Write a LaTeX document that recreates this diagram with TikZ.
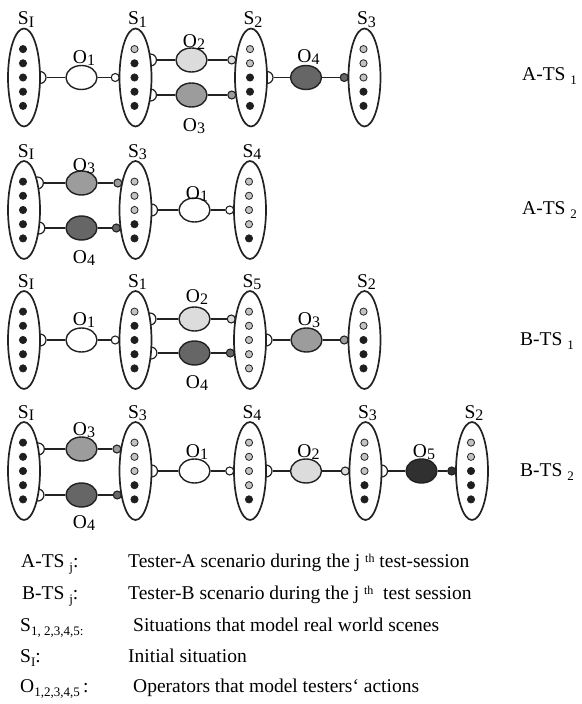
\documentclass[tikz,border=0pt]{standalone}
\usepackage{fontspec}
\setmainfont{Liberation Serif}
\usetikzlibrary{shapes.geometric,calc}
\pgfdeclarelayer{bg}
\pgfsetlayers{bg,main}
\definecolor{dotb}{HTML}{1E1E1E}
\definecolor{dotg}{HTML}{C2C2C2}
\definecolor{opw}{HTML}{FFFFFF}
\definecolor{opl}{HTML}{DCDCDC}
\definecolor{opm}{HTML}{9C9C9C}
\definecolor{opd}{HTML}{666666}
\definecolor{opk}{HTML}{303030}
\definecolor{ink}{HTML}{222222}
\newcommand\ls[1]{\raisebox{-2.5pt}{\fontsize{16}{16}\selectfont #1}}
\newcommand\ts[1]{\raisebox{-4pt}{\fontsize{13}{13}\selectfont #1}}
\newcommand\tsup[1]{\raisebox{5pt}{\fontsize{12}{12}\selectfont #1}}
\tikzset{
  sit/.style={ellipse, draw=ink, line width=1.7pt, fill=white, minimum width=32pt, minimum height=98pt, inner sep=0pt},
  opst/.style={ellipse, draw=ink, line width=1.4pt, minimum width=31pt, minimum height=24pt, inner sep=0pt},
  sockst/.style={circle, draw=ink, line width=1.2pt, fill=white, minimum size=12pt, inner sep=0pt},
  plugst/.style={circle, draw=ink, line width=1.1pt, minimum size=8pt, inner sep=0pt},
  conn/.style={draw=ink, line width=1.7pt},
  lab/.style={font=\fontsize{19.5}{22}\selectfont, inner sep=0pt, text=black},
}
% name, x, y, label, dots
\newcommand\Sit[5]{%
  \node[sit] (#1) at (#2,#3) {};
  \node[lab, anchor=base] (#1l) at (#2+2,#3-53) {#4};
  \foreach \c [count=\i] in {#5} {\path[fill=dot\c, draw=ink, line width=0.8pt] (#2-1,#3+\i*14.2-42.6) circle (3.6);}
}
% name, Sx, Sy, branch y
\newcommand\Sock[4]{%
  \pgfmathsetmacro\dxx{16*sqrt(1-((#4-(#3))/49)^2)}%
  \begin{pgfonlayer}{bg}\node[sockst] (#1) at (#2+\dxx,#4) {};\end{pgfonlayer}}
% name, Sx, Sy, branch y, colour
\newcommand\Plug[5]{%
  \pgfmathsetmacro\dxx{16*sqrt(1-((#4-(#3))/49)^2)}%
  \begin{pgfonlayer}{bg}\node[plugst, fill=#5] (#1) at (#2-\dxx-4.3,#4) {};\end{pgfonlayer}}
% name, x, y, colour, label, label dy
\newcommand\Op[6]{%
  \node[opst, fill=#4] (#1) at (#2,#3) {};
  \node[lab, anchor=base] (#1l) at (#2+2.5,#3+#6) {#5};}
\begin{document}
\begin{tikzpicture}[x=1pt,y=-1pt]
\useasboundingbox (0,0) rectangle (581,704);
% ---------------- Row 1 : A-TS 1
\Sit{aI}{24}{77.5}{S\ls{I}}{b,b,b,b,b}
\Sit{aS1}{135.5}{77.5}{S\ls{1}}{g,b,b,b,b}
\Sit{aS2}{251}{77.5}{S\ls{2}}{g,g,b,b,b}
\Sit{aS3}{364.5}{77.5}{S\ls{3}}{g,g,g,b,b}
\Sock{aIs}{24}{77.5}{77.5}
\Op{aO1}{81.5}{77.5}{opw}{O\ls{1}}{-14.5}
\Plug{aS1p}{135.5}{77.5}{77.5}{opw}
\Sock{aS1sa}{135.5}{77.5}{60}
\Sock{aS1sb}{135.5}{77.5}{95}
\Op{aO2}{191.5}{60}{opl}{O\ls{2}}{-13}
\Op{aO3}{191.5}{95}{opm}{O\ls{3}}{36}
\Plug{aS2pa}{251}{77.5}{60}{opl}
\Plug{aS2pb}{251}{77.5}{95}{opm}
\Sock{aS2s}{251}{77.5}{77.5}
\Op{aO4}{306}{77.5}{opd}{O\ls{4}}{-15.5}
\Plug{aS3p}{364.5}{77.5}{77.5}{opd}
\draw[conn] (aIs) -- (aO1) -- (aS1p);
\draw[conn] (aS1sa) -- (aO2) -- (aS2pa);
\draw[conn] (aS1sb) -- (aO3) -- (aS2pb);
\draw[conn] (aS2s) -- (aO4) -- (aS3p);
\node[lab, anchor=base west] (r1) at (522,80) {A-TS\ \ts{1}};
% ---------------- Row 2 : A-TS 2
\Sit{bI}{24}{210}{S\ls{I}}{b,b,b,b,b}
\Sit{bS3}{135.5}{210}{S\ls{3}}{g,g,g,b,b}
\Sit{bS4}{250}{210}{S\ls{4}}{g,g,g,g,b}
\Sock{bIsa}{24}{210}{183}
\Sock{bIsb}{24}{210}{228}
\Op{bO3}{81.5}{183}{opm}{O\ls{3}}{-12}
\Op{bO4}{81.5}{228}{opd}{O\ls{4}}{35}
\Plug{bS3pa}{135.5}{210}{183}{opm}
\Plug{bS3pb}{135.5}{210}{228}{opd}
\Sock{bS3s}{135.5}{210}{210}
\Op{bO1}{194.5}{210}{opw}{O\ls{1}}{-11}
\Plug{bS4p}{250}{210}{210}{opw}
\draw[conn] (bIsa) -- (bO3) -- (bS3pa);
\draw[conn] (bIsb) -- (bO4) -- (bS3pb);
\draw[conn] (bS3s) -- (bO1) -- (bS4p);
\node[lab, anchor=base west] (r2) at (522,214) {A-TS\ \ts{2}};
% ---------------- Row 3 : B-TS 1
\Sit{cI}{24}{340}{S\ls{I}}{b,b,b,b,b}
\Sit{cS1}{135.5}{340}{S\ls{1}}{g,b,b,b,b}
\Sit{cS5}{250}{340}{S\ls{5}}{g,g,g,g,g}
\Sit{cS2}{364.5}{340}{S\ls{2}}{g,g,b,b,b}
\Sock{cIs}{24}{340}{340}
\Op{cO1}{81.5}{340}{opw}{O\ls{1}}{-15}
\Plug{cS1p}{135.5}{340}{340}{opw}
\Sock{cS1sa}{135.5}{340}{319}
\Sock{cS1sb}{135.5}{340}{353}
\Op{cO2}{194.5}{319}{opl}{O\ls{2}}{-17}
\Op{cO4}{194.5}{353}{opd}{O\ls{4}}{35}
\Plug{cS5pa}{250}{340}{319}{opl}
\Plug{cS5pb}{250}{340}{353}{opd}
\Sock{cS5s}{250}{340}{340}
\Op{cO3}{306.5}{340}{opm}{O\ls{3}}{-15}
\Plug{cS2p}{364.5}{340}{340}{opm}
\draw[conn] (cIs) -- (cO1) -- (cS1p);
\draw[conn] (cS1sa) -- (cO2) -- (cS5pa);
\draw[conn] (cS1sb) -- (cO4) -- (cS5pb);
\draw[conn] (cS5s) -- (cO3) -- (cS2p);
\node[lab, anchor=base west] (r3) at (520,345) {B-TS\ \ts{1}};
% ---------------- Row 4 : B-TS 2
\Sit{dI}{24}{471}{S\ls{I}}{b,b,b,b,b}
\Sit{dS3}{135.5}{471}{S\ls{3}}{g,g,g,b,b}
\Sit{dS4}{250}{471}{S\ls{4}}{g,g,g,g,b}
\Sit{dS3b}{365.5}{471}{S\ls{3}}{g,g,g,b,b}
\Sit{dS2}{472}{471}{S\ls{2}}{g,g,b,b,b}
\Sock{dIsa}{24}{471}{449}
\Sock{dIsb}{24}{471}{495}
\Op{dO3}{81.5}{449}{opm}{O\ls{3}}{-14}
\Op{dO4}{81.5}{495}{opd}{O\ls{4}}{33}
\Plug{dS3pa}{135.5}{471}{449}{opm}
\Plug{dS3pb}{135.5}{471}{495}{opd}
\Sock{dS3s}{135.5}{471}{471}
\Op{dO1}{194.5}{471}{opw}{O\ls{1}}{-14}
\Plug{dS4p}{250}{471}{471}{opw}
\Sock{dS4s}{250}{471}{471}
\Op{dO2}{306}{471}{opl}{O\ls{2}}{-14}
\Plug{dS3bp}{365.5}{471}{471}{opl}
\Sock{dS3bs}{365.5}{471}{471}
\Op{dO5}{421.5}{471}{opk}{O\ls{5}}{-14}
\Plug{dS2p}{472}{471}{471}{opk}
\draw[conn] (dIsa) -- (dO3) -- (dS3pa);
\draw[conn] (dIsb) -- (dO4) -- (dS3pb);
\draw[conn] (dS3s) -- (dO1) -- (dS4p);
\draw[conn] (dS4s) -- (dO2) -- (dS3bp);
\draw[conn] (dS3bs) -- (dO5) -- (dS2p);
\node[lab, anchor=base west] (r4) at (520,476) {B-TS\ \ts{2}};
% ---------------- Legend
\node[lab, anchor=base west] (k1) at (21,567) {A-TS\ \ts{j}:};
\node[lab, anchor=base west] (d1) at (128,567) {Tester-A scenario during the j\ \tsup{th} test-session};
\node[lab, anchor=base west] (k2) at (22,599) {B-TS\ \ts{j}:};
\node[lab, anchor=base west] (d2) at (128,599) {Tester-B scenario during the j\ \tsup{th} \ test session};
\node[lab, anchor=base west] (k3) at (20,631) {S\ts{1, 2,3,4,5:}};
\node[lab, anchor=base west] (d3) at (133,631) {Situations that model real world scenes};
\node[lab, anchor=base west] (k4) at (20,662) {S\ts{I}:};
\node[lab, anchor=base west] (d4) at (128,662) {Initial situation};
\node[lab, anchor=base west] (k5) at (20,692) {O\ts{1,2,3,4,5}\,:};
\node[lab, anchor=base west] (d5) at (133,692) {Operators that model testers‘ actions};
\end{tikzpicture}
\end{document}
